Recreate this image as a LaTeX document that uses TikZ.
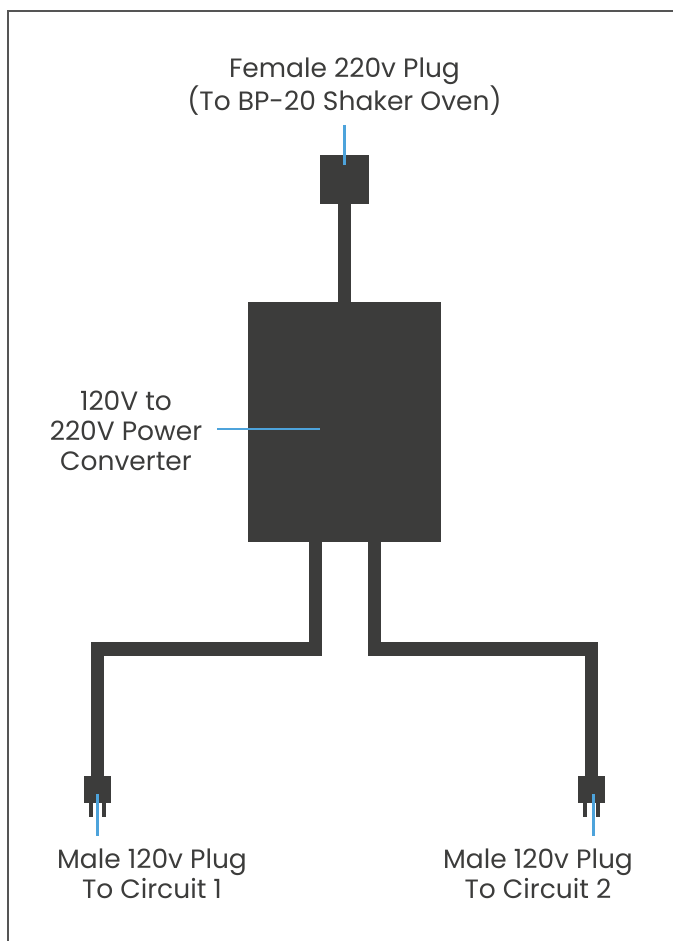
\documentclass[tikz,border=0pt]{standalone}
\usepackage{fontspec}
\setmainfont{Poppins}
\usetikzlibrary{positioning}
\definecolor{unit}{HTML}{3C3C3B}
\definecolor{leadcol}{HTML}{4DA3DB}
\definecolor{framecol}{HTML}{555555}
\tikzset{
  unitbox/.style={fill=unit, draw=none, inner sep=0pt},
  cord/.style={draw=unit, line width=13.5pt, line join=miter},
  leadline/.style={draw=leadcol, line width=2.5pt},
  tag/.style={text=unit, font=\fontsize{26.5}{30}\selectfont, align=center, inner sep=2pt},
}
\begin{document}
\begin{tikzpicture}[x=1pt, y=-1pt]
\useasboundingbox (0,0) rectangle (673,941);
% frame
\draw[framecol, line width=2pt] (8,941) -- (8,11) -- (673,11);

% plugs and converter
\node[unitbox, minimum width=49pt, minimum height=49pt] (fplug) at (344.5,179.5) {};
\node[unitbox, minimum width=193pt, minimum height=240pt] (conv) at (344.5,422) {};
\node[unitbox, minimum width=27pt, minimum height=27pt] (mplugA) at (97.5,789.5) {};
\node[unitbox, minimum width=27pt, minimum height=27pt] (mplugB) at (591.5,789.5) {};
\foreach \p in {mplugA,mplugB}
{
    \fill[unit] (\p.south) ++(-8.5,0) rectangle ++(4,14);
    \fill[unit] (\p.south) ++(4.5,0) rectangle ++(4,14);
}

% cords
\coordinate (outA) at (315.5,542);
\coordinate (outB) at (374.5,542);
\coordinate (kneeA) at (97.5,649);
\coordinate (kneeB) at (591.5,649);
\draw[cord] (fplug) -- (conv);
\draw[cord] (outA) |- (kneeA) -- (mplugA);
\draw[cord] (outB) |- (kneeB) -- (mplugB);

% labels
\node[tag] (ftag) at (344.5,87) {Female 220v Plug\\(To BP-20 Shaker Oven)};
\node[tag] (ctag) at (126,431) {120V to\\220V Power\\Converter};
\node[tag] (mtagA) at (152,874) {Male 120v Plug\\To Circuit 1};
\node[tag] (mtagB) at (538,874) {Male 120v Plug\\To Circuit 2};

% leaders
\coordinate (ftop) at (344.5,125);
\coordinate (fpin) at (344.5,165);
\coordinate (cstart) at (217,429);
\coordinate (cpin) at (320,429);
\coordinate (apin) at (97.5,794);
\coordinate (aend) at (97.5,836);
\coordinate (bpin) at (593.5,794);
\coordinate (bend) at (593.5,836);
\draw[leadline] (ftop) -- (fpin);
\draw[leadline] (cstart) -- (cpin);
\draw[leadline] (apin) -- (aend);
\draw[leadline] (bpin) -- (bend);
\end{tikzpicture}
\end{document}
